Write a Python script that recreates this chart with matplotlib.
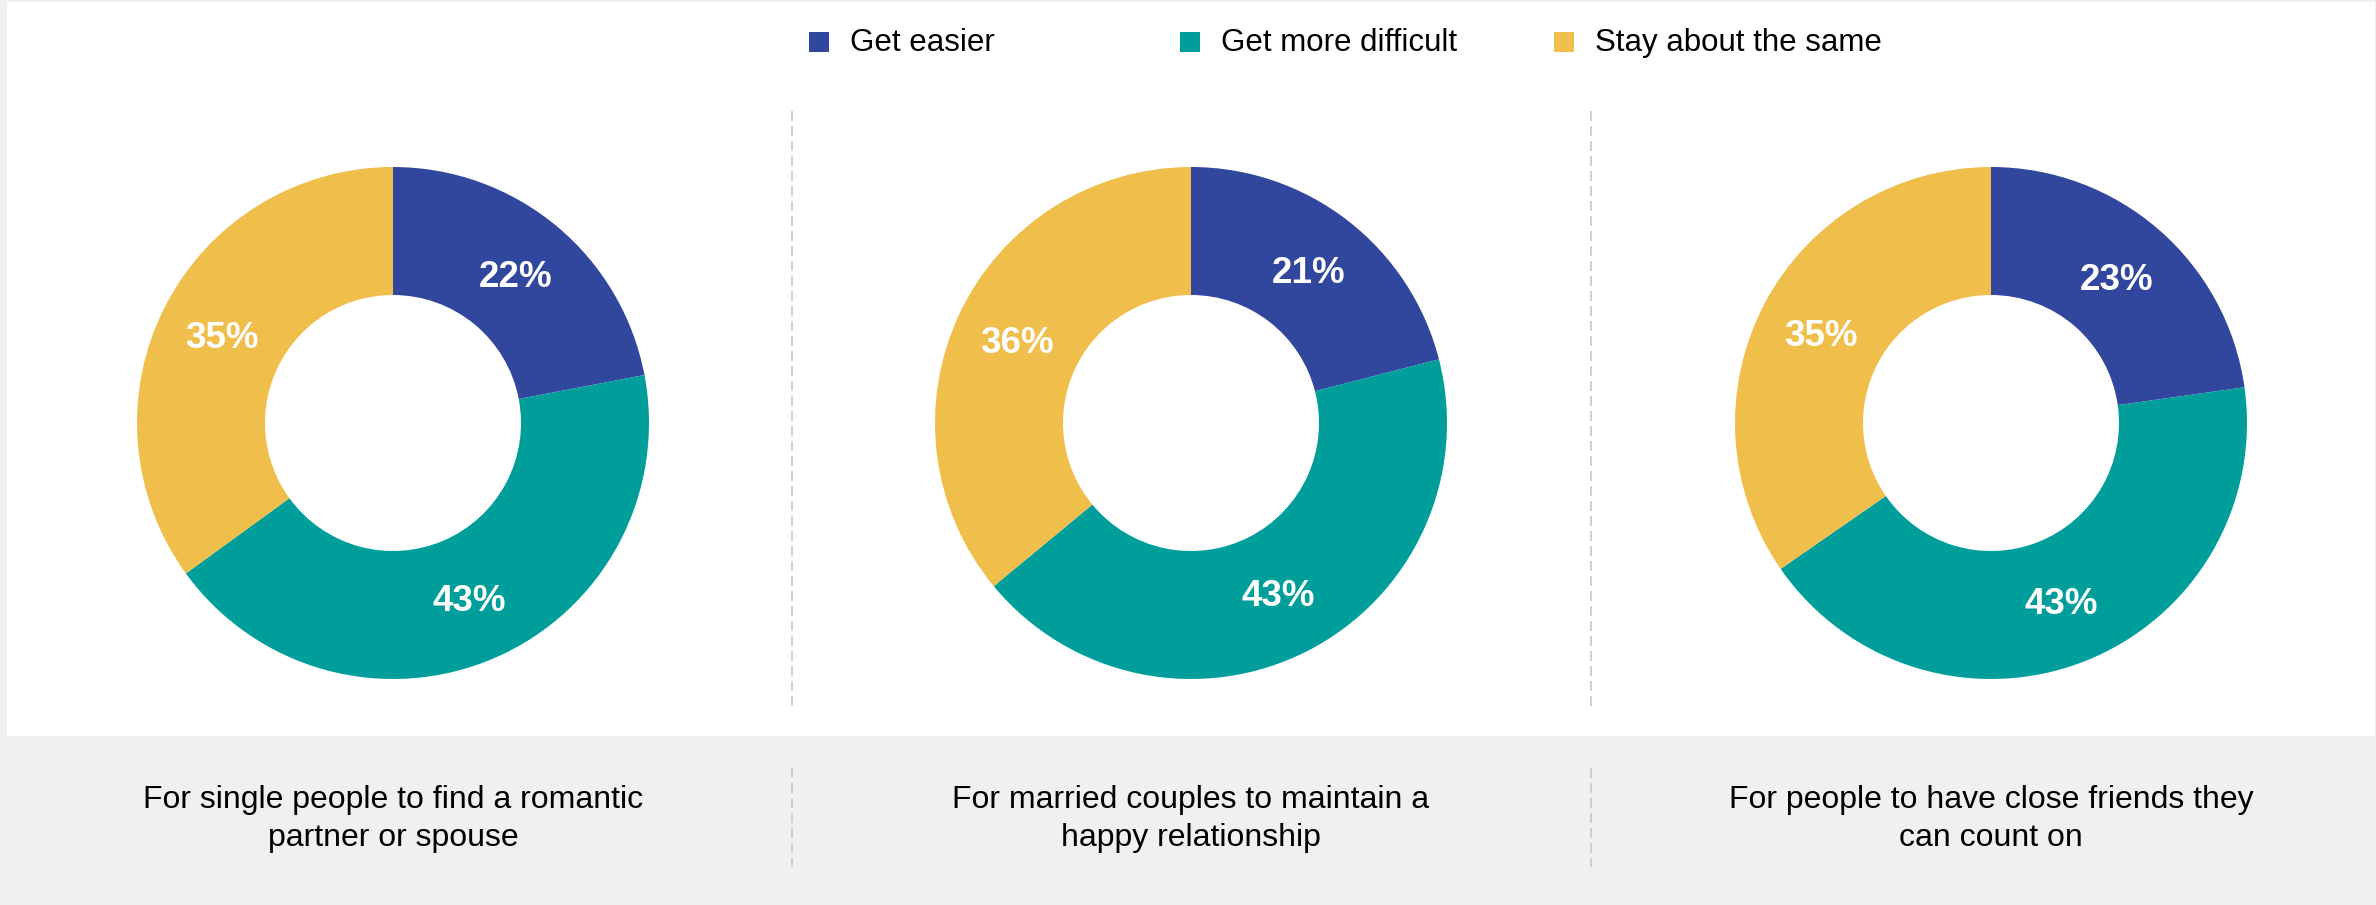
import matplotlib
matplotlib.use('Agg')
import matplotlib.pyplot as plt
import numpy as np
from matplotlib.patches import Rectangle
from matplotlib.lines import Line2D

plt.rcParams['font.family'] = ['Liberation Sans', 'DejaVu Sans']

categories = ['Get easier', 'Get more difficult', 'Stay about the same']
colors = ['#31479e', '#009e9b', '#f0be4a']

questions = [
    'For single people to find a romantic\npartner or spouse',
    'For married couples to maintain a\nhappy relationship',
    'For people to have close friends they\ncan count on',
]
single_partner = [22, 43, 35]
married_couples = [21, 43, 36]
close_friends = [23, 43, 35]
series = [single_partner, married_couples, close_friends]

W, H = 2376, 905
fig = plt.figure(figsize=(W / 100, H / 100), dpi=100, facecolor='#f0f0f0')


def fx(x):
    return x / W


def fy(y):
    return 1 - y / H


# white panel behind the donuts, grey strip for the question text below
fig.add_artist(Rectangle((fx(7), fy(736)), (2375 - 7) / W, (736 - 2) / H,
                         transform=fig.transFigure, facecolor='white',
                         edgecolor='none', zorder=0))

# legend row
legend_x = [809, 1180, 1554]
for lx, name, col in zip(legend_x, categories, colors):
    fig.add_artist(Rectangle((fx(lx), fy(52)), 20 / W, 20 / H,
                             transform=fig.transFigure, facecolor=col,
                             edgecolor='none'))
    fig.text(fx(lx + 41), fy(43), name, ha='left', va='center',
             fontsize=22.5, color='black')

# dashed separators between the panels
for sx in [792, 1591]:
    for y0, y1 in [(111, 708), (768, 867)]:
        fig.add_artist(Line2D([fx(sx), fx(sx)], [fy(y0), fy(y1)],
                              transform=fig.transFigure, color='#c8c8c8',
                              linewidth=1.2, linestyle=(0, (6, 3))))

centers = [393, 1191, 1991]
cy = 423
R = 256

for vals, q, cx in zip(series, questions, centers):
    ax = fig.add_axes([fx(cx - R), (H - cy - R) / H, 2 * R / W, 2 * R / H])
    wedges, _ = ax.pie(vals, colors=colors, startangle=90, counterclock=False,
                       radius=1, wedgeprops=dict(width=0.5, edgecolor='none'))
    ax.set_xlim(-1, 1)
    ax.set_ylim(-1, 1)
    for w, v in zip(wedges, vals):
        ang = np.deg2rad((w.theta1 + w.theta2) / 2)
        ax.text(0.75 * np.cos(ang), 0.75 * np.sin(ang) - 0.01, f'{v}%',
                ha='center', va='center', color='white', fontsize=26.5,
                fontweight='bold')
    fig.text(fx(cx), fy(819), q, ha='center', va='center', fontsize=23,
             linespacing=1.32, color='black')

fig.savefig('out.png', dpi=100, facecolor=fig.get_facecolor())
